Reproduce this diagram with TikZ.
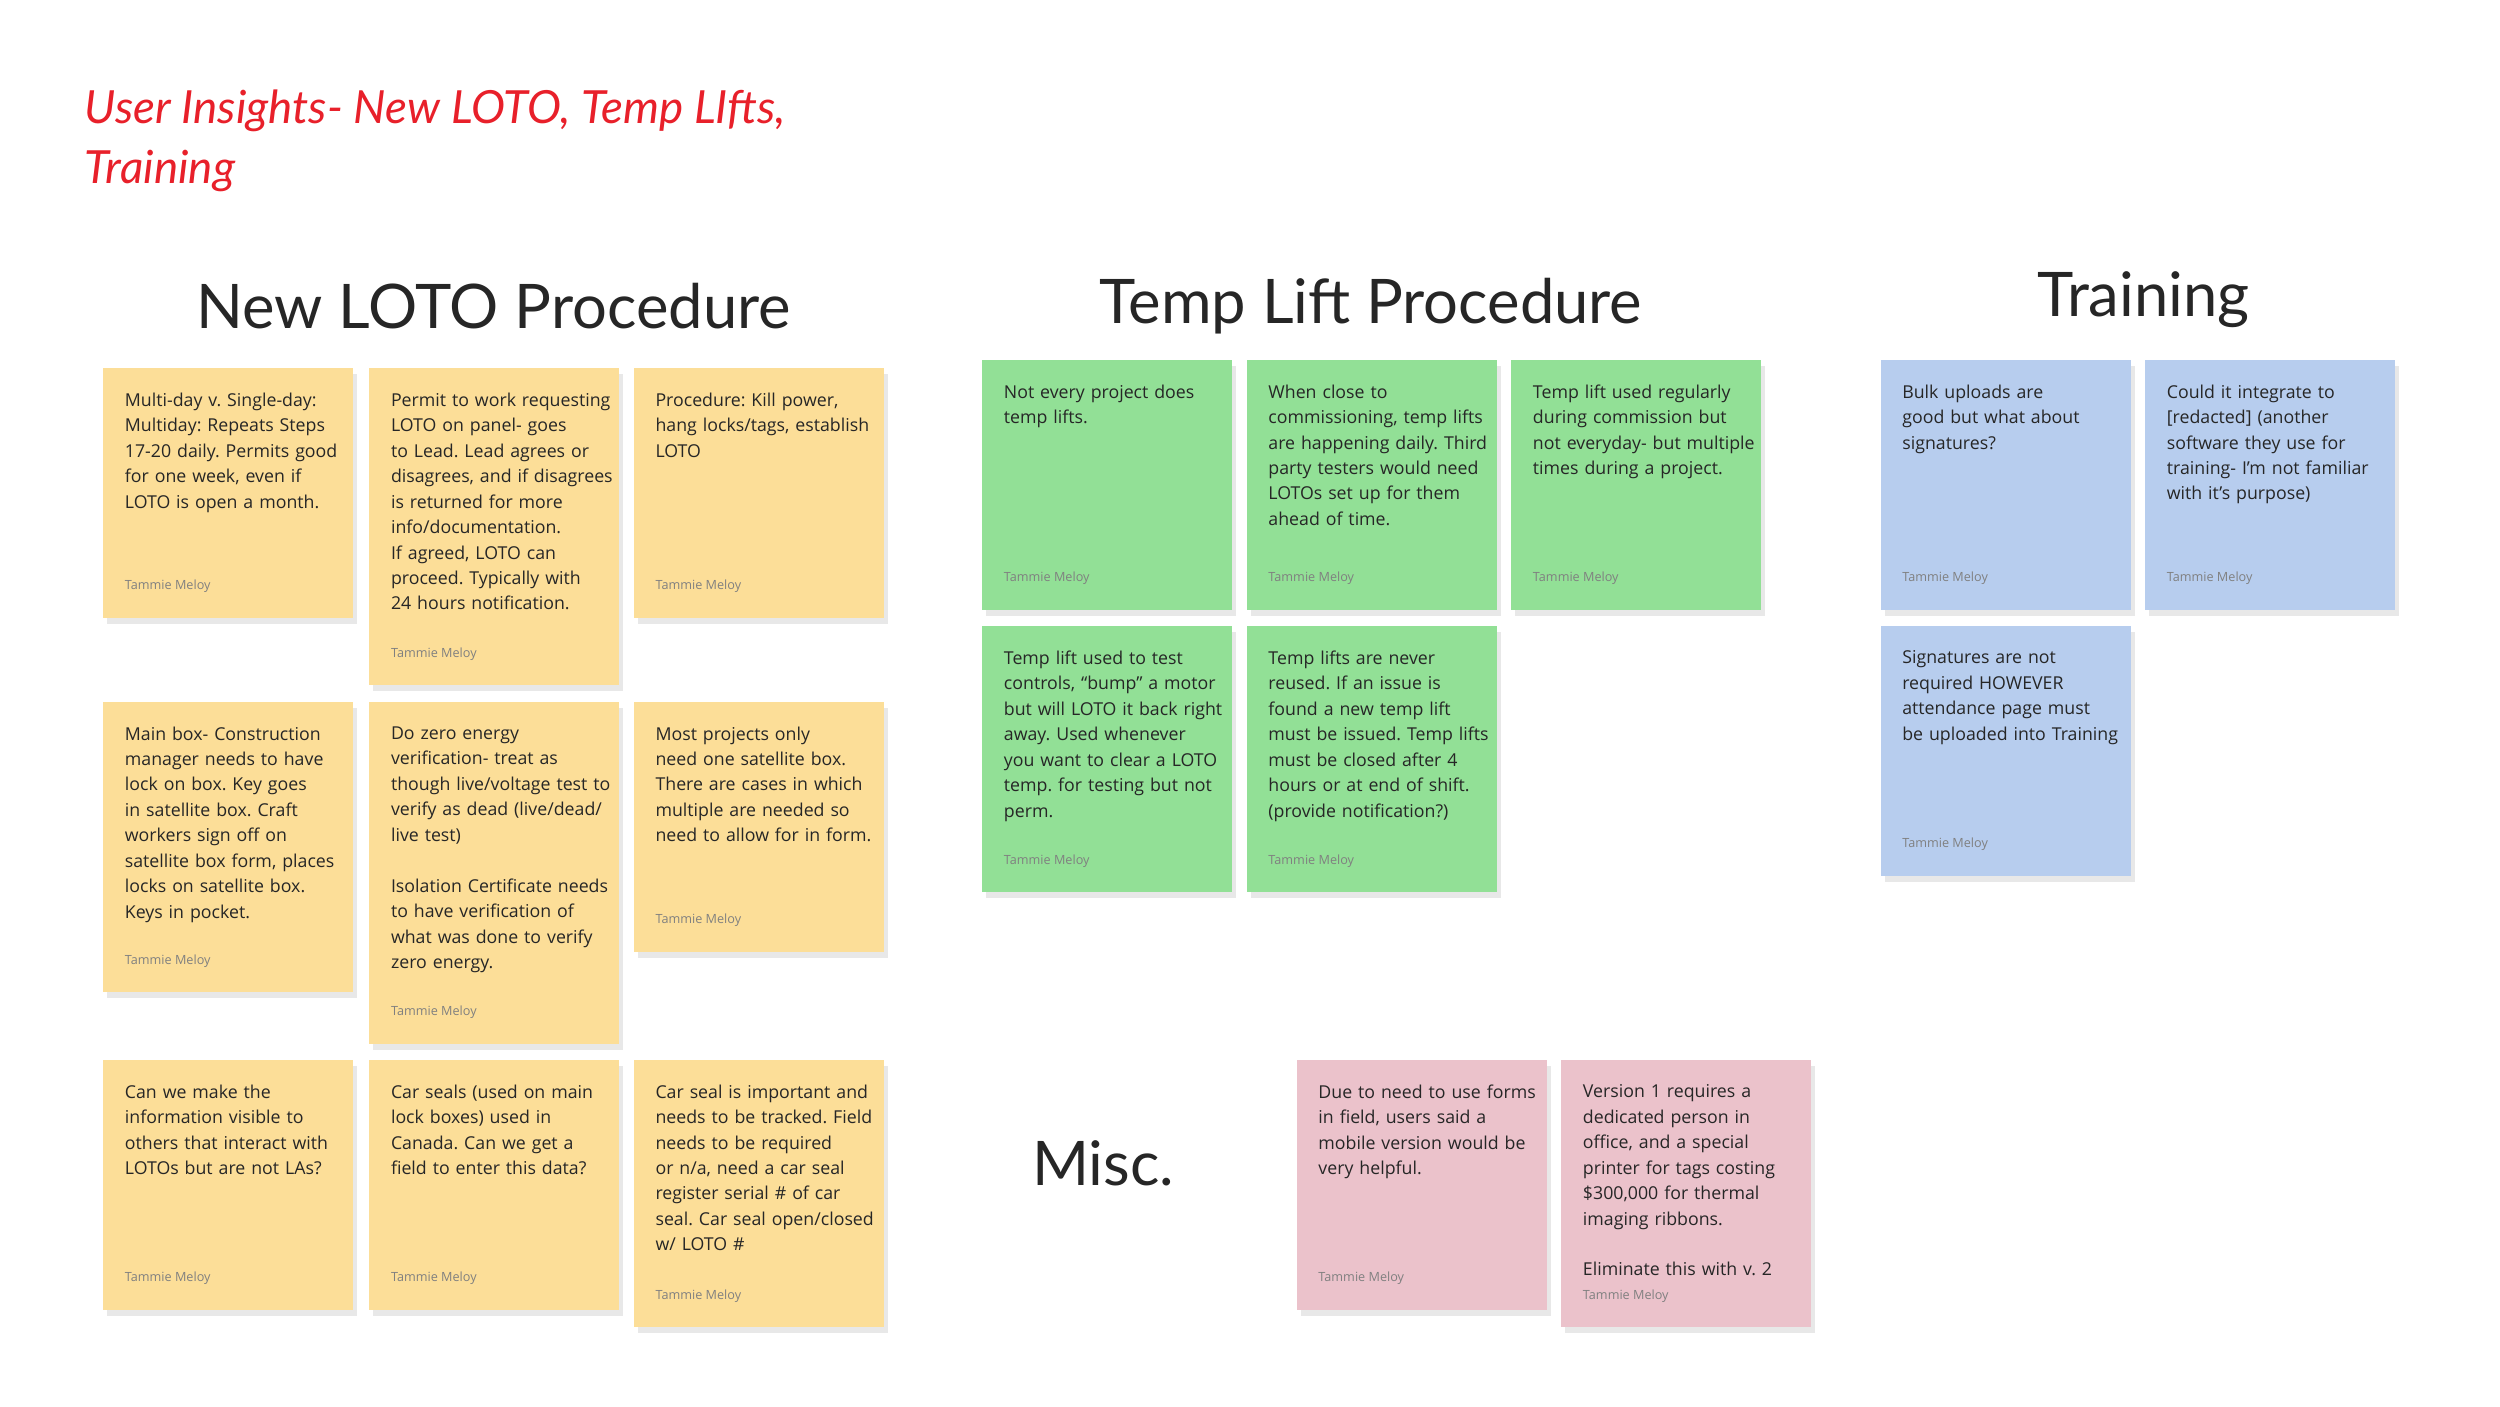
\documentclass[tikz,border=0pt]{standalone}
\usepackage{fontspec}
\setmainfont{Lato}
\newfontfamily\notefont{Open Sans}
\usetikzlibrary{shadows,calc}
\definecolor{lotoyellow}{HTML}{FCDE98}
\definecolor{tempgreen}{HTML}{92E096}
\definecolor{trainblue}{HTML}{B7CDEE}
\definecolor{miscpink}{HTML}{EBC2CB}
\definecolor{inkred}{HTML}{E8202A}
\tikzset{
  note/.style={draw=none, drop shadow={opacity=0.18, shadow xshift=0.4mm, shadow yshift=-0.6mm}},
  notetext/.style={anchor=north west, align=left, text width=2.22cm, inner sep=0pt,
    font=\notefont\fontsize{5.05}{7.25}\selectfont, text=black!85,
    execute at begin node={\frenchspacing\hyphenpenalty=10000\exhyphenpenalty=10000}},
  author/.style={anchor=south west, inner sep=0pt, font=\notefont\fontsize{3.6}{4.5}\selectfont, text=black!50},
  header/.style={font=\fontsize{17.5}{21}\selectfont, text=black!85}
}
% \sticky{name}{x}{y}{height}{colour}{text}
\newcommand{\sticky}[6]{%
  \fill[note, #5] (#2,#3) rectangle ++(155,#4);
  \node[notetext] (#1) at ($(#2,#3)+(13,15)$) {#6};
  \node[author] (#1-by) at ($(#2,#3)+(13,#4-15)$) {Tammie Meloy};
}
\begin{document}
\begin{tikzpicture}[x=0.016129cm, y=-0.016129cm]
  \useasboundingbox[fill=white] (0,0) rectangle (1550,872);

  % title
  \node[anchor=north west, align=left, text=inkred, font=\fontsize{13}{17}\itshape\selectfont] (title) at (45,48)
    {User Insights- New LOTO, Temp LIfts,\\Training};

  % headers
  \node[header] (hloto) at (306,190) {New LOTO Procedure};
  \node[header] (htemp) at (850,190) {Temp Lift Procedure};
  \node[header] (htrain) at (1329,186) {Training};
  \node[header] (hmisc) at (684,721) {Misc.};

  % New LOTO
  \sticky{l1}{64}{228}{155}{lotoyellow}{Multi-day v. Single-day: Multiday: Repeats Steps 17-20 daily. Permits good for one week, even if LOTO is open a month.}
  \sticky{l2}{229}{228}{197}{lotoyellow}{Permit to work requesting LOTO on panel- goes to Lead. Lead agrees or disagrees, and if disagrees is returned for more info/documentation. If agreed, LOTO can proceed. Typically with 24 hours notification.}
  \sticky{l3}{393}{228}{155}{lotoyellow}{Procedure: Kill power, hang locks/tags, establish LOTO}
  \sticky{l4}{64}{435}{180}{lotoyellow}{Main box- Construction manager needs to have lock on box. Key goes in satellite box. Craft workers sign off on satellite box form, places locks on satellite box. Keys in pocket.}
  \sticky{l5}{229}{435}{212}{lotoyellow}{Do zero energy verification- treat as though live/voltage test to verify as dead (live/dead/ live test)\\[7.25pt]Isolation Certificate needs to have verification of what was done to verify zero energy.}
  \sticky{l6}{393}{435}{155}{lotoyellow}{Most projects only need one satellite box. There are cases in which multiple are needed so need to allow for in form.}
  \sticky{l7}{64}{657}{155}{lotoyellow}{Can we make the information visible to others that interact with LOTOs but are not LAs?}
  \sticky{l8}{229}{657}{155}{lotoyellow}{Car seals (used on main lock boxes) used in Canada. Can we get a field to enter this data?}
  \sticky{l9}{393}{657}{166}{lotoyellow}{Car seal is important and needs to be tracked. Field needs to be required or n/a, need a car seal register serial \# of car seal. Car seal open/closed w/ LOTO \#}

  % Temp lifts
  \sticky{t1}{609}{223}{155}{tempgreen}{Not every project does temp lifts.}
  \sticky{t2}{773}{223}{155}{tempgreen}{When close to commissioning, temp lifts are happening daily. Third party testers would need LOTOs set up for them ahead of time.}
  \sticky{t3}{937}{223}{155}{tempgreen}{Temp lift used regularly during commission but not everyday- but multiple times during a project.}
  \sticky{t4}{609}{388}{165}{tempgreen}{Temp lift used to test controls, “bump” a motor but will LOTO it back right away. Used whenever you want to clear a LOTO temp. for testing but not perm.}
  \sticky{t5}{773}{388}{165}{tempgreen}{Temp lifts are never reused. If an issue is found a new temp lift must be issued. Temp lifts must be closed after 4 hours or at end of shift. (provide notification?)}

  % Training
  \sticky{r1}{1166}{223}{155}{trainblue}{Bulk uploads are good but what about signatures?}
  \sticky{r2}{1330}{223}{155}{trainblue}{Could it integrate to [redacted] (another software they use for training- I’m not familiar with it’s purpose)}
  \sticky{r3}{1166}{388}{155}{trainblue}{Signatures are not required HOWEVER attendance page must be uploaded into Training}

  % Misc
  \sticky{m1}{804}{657}{155}{miscpink}{Due to need to use forms in field, users said a mobile version would be very helpful.}
  \sticky{m2}{968}{657}{166}{miscpink}{Version 1 requires a dedicated person in office, and a special printer for tags costing \$300,000 for thermal imaging ribbons.\\[7.25pt]Eliminate this with v. 2}
\end{tikzpicture}
\end{document}
